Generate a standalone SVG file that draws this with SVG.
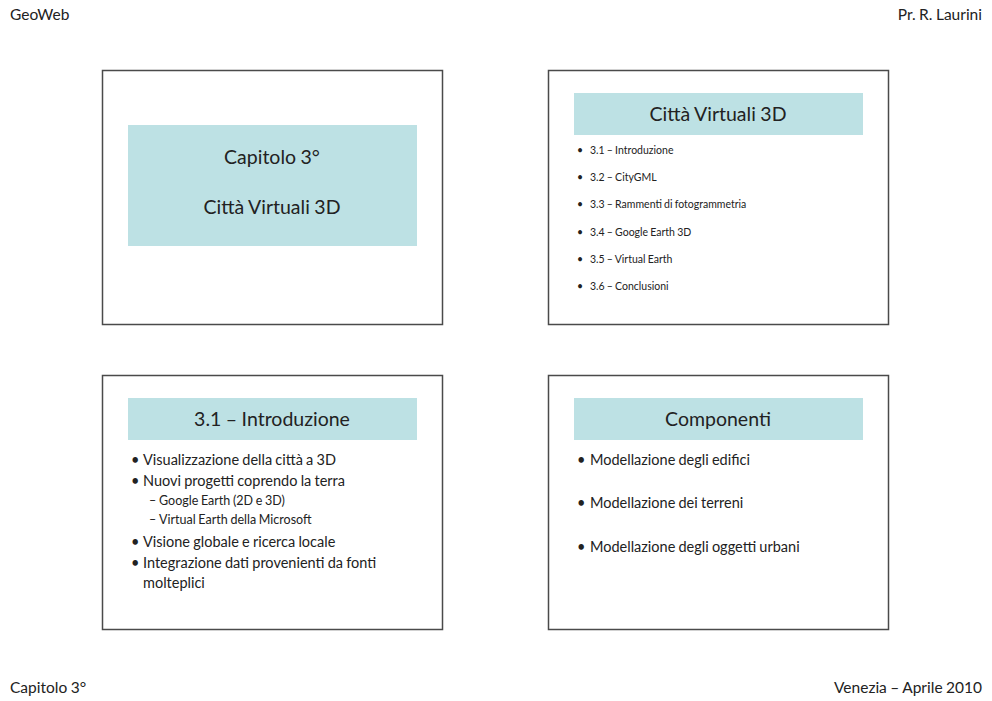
<svg xmlns="http://www.w3.org/2000/svg" width="992" height="701" viewBox="0 0 992 701">
<style>
text{font-family:Lato,"Noto Sans",sans-serif;fill:#222;word-spacing:-0.5px}
.frame{fill:#fff;stroke:#4a4a4a;stroke-width:1.5}
.bar{fill:#bde1e4}
.hdr{font-size:15.5px}
.t1{font-size:19.5px;text-anchor:middle}
.s{font-size:10.5px}
.m{font-size:14.5px}
.sub{font-size:12.5px}
</style>
<rect width="992" height="701" fill="#fff"/>
<g id="page-header">
<text class="hdr" x="10" y="20">GeoWeb</text>
<text class="hdr" x="982" y="20" text-anchor="end">Pr. R. Laurini</text>
</g>
<g id="page-footer">
<text class="hdr" x="10" y="693">Capitolo 3°</text>
<text class="hdr" x="982" y="693" text-anchor="end">Venezia – Aprile 2010</text>
</g>
<g id="slide1">
<rect class="frame" x="102.5" y="70.5" width="340" height="254"/>
<rect class="bar" x="128" y="125" width="289" height="121"/>
<text class="t1" x="272" y="164">Capitolo 3°</text>
<text class="t1" x="272" y="214">Città Virtuali 3D</text>
</g>
<g id="slide2">
<rect class="frame" x="548.5" y="70.5" width="340" height="254"/>
<rect class="bar" x="574" y="93" width="289" height="42"/>
<text class="t1" x="718" y="121">Città Virtuali 3D</text>
<g class="s">
<text x="577" y="154">•</text><text x="590" y="154">3.1 – Introduzione</text>
<text x="577" y="181">•</text><text x="590" y="181">3.2 – CityGML</text>
<text x="577" y="208">•</text><text x="590" y="208">3.3 – Rammenti di fotogrammetria</text>
<text x="577" y="236">•</text><text x="590" y="236">3.4 – Google Earth 3D</text>
<text x="577" y="263">•</text><text x="590" y="263">3.5 – Virtual Earth</text>
<text x="577" y="290">•</text><text x="590" y="290">3.6 – Conclusioni</text>
</g>
</g>
<g id="slide3">
<rect class="frame" x="102.5" y="375.5" width="340" height="254"/>
<rect class="bar" x="128" y="398" width="289" height="42"/>
<text class="t1" x="272" y="426">3.1 – Introduzione</text>
<g class="m">
<text x="131" y="465">•</text><text x="143" y="465">Visualizzazione della città a 3D</text>
<text x="131" y="486">•</text><text x="143" y="486">Nuovi progetti coprendo la terra</text>
<text x="131" y="547">•</text><text x="143" y="547">Visione globale e ricerca locale</text>
<text x="131" y="568">•</text><text x="143" y="568">Integrazione dati provenienti da fonti</text>
<text x="143" y="588">molteplici</text>
</g>
<g class="sub">
<text x="149" y="505">–</text><text x="159" y="505">Google Earth (2D e 3D)</text>
<text x="149" y="524">–</text><text x="159" y="524">Virtual Earth della Microsoft</text>
</g>
</g>
<g id="slide4">
<rect class="frame" x="548.5" y="375.5" width="340" height="254"/>
<rect class="bar" x="574" y="398" width="289" height="42"/>
<text class="t1" x="718" y="426">Componenti</text>
<g class="m">
<text x="577" y="465">•</text><text x="590" y="465">Modellazione degli edifici</text>
<text x="577" y="508">•</text><text x="590" y="508">Modellazione dei terreni</text>
<text x="577" y="552">•</text><text x="590" y="552">Modellazione degli oggetti urbani</text>
</g>
</g>
<g id="connectors"/>
</svg>
